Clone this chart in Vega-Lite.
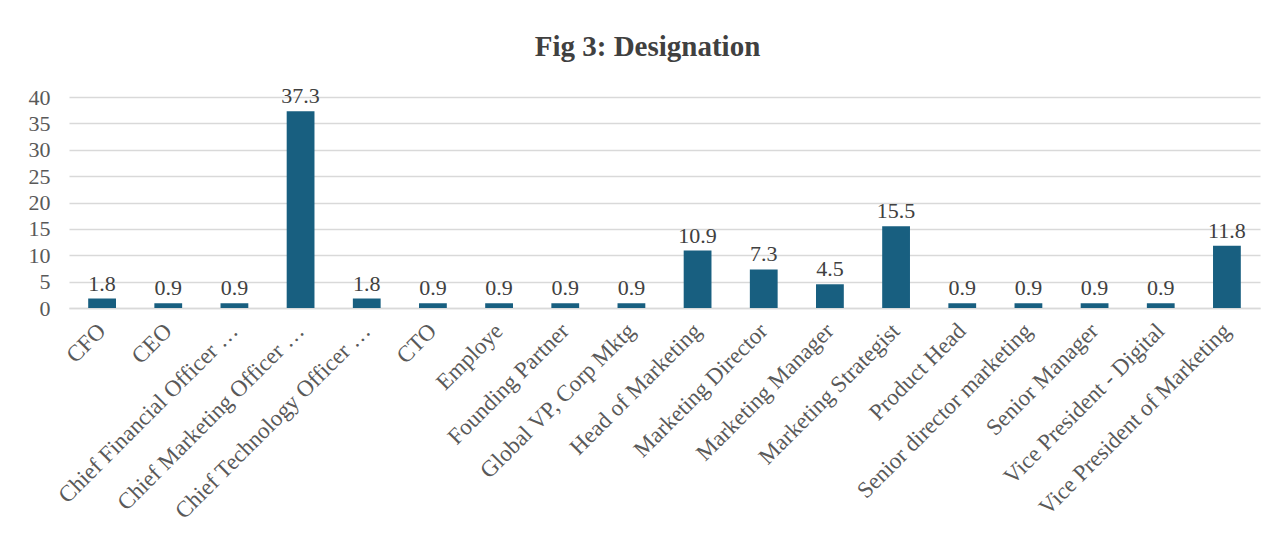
{
  "$schema": "https://vega.github.io/schema/vega-lite/v6.json",
  "width": 1191,
  "height": 211,
  "autosize": {"type": "none"},
  "padding": {"left": 69, "top": 97, "right": 22, "bottom": 238},
  "background": "white",
  "title": {"text": "Fig 3: Designation", "font": "Liberation Serif", "fontSize": 29, "fontWeight": "bold", "color": "#404040", "anchor": "middle", "offset": 23, "dx": -17, "frame": "group"},
  "data": {"values": [
    {"d": "CFO", "v": 1.8},
    {"d": "CEO", "v": 0.9},
    {"d": "Chief Financial Officer …", "v": 0.9},
    {"d": "Chief Marketing Officer …", "v": 37.3},
    {"d": "Chief Technology Officer …", "v": 1.8},
    {"d": "CTO", "v": 0.9},
    {"d": "Employe", "v": 0.9},
    {"d": "Founding Partner", "v": 0.9},
    {"d": "Global VP, Corp Mktg", "v": 0.9},
    {"d": "Head of Marketing", "v": 10.9},
    {"d": "Marketing Director", "v": 7.3},
    {"d": "Marketing Manager", "v": 4.5},
    {"d": "Marketing Strategist", "v": 15.5},
    {"d": "Product Head", "v": 0.9},
    {"d": "Senior director marketing", "v": 0.9},
    {"d": "Senior Manager", "v": 0.9},
    {"d": "Vice President - Digital", "v": 0.9},
    {"d": "Vice President of Marketing", "v": 11.8}
  ]},
  "encoding": {
    "x": {"field": "d", "type": "nominal", "sort": null, "title": null,
      "scale": {"paddingInner": 0.58, "paddingOuter": 0.29},
      "axis": {"labelAngle": -45, "labelAlign": "right", "labelBaseline": "middle", "labelPadding": 19, "ticks": false, "domainColor": "#d9d9d9", "domainWidth": 1.5, "labelFont": "Liberation Serif", "labelFontSize": 23, "labelColor": "#595959", "labelLimit": 400}},
    "y": {"field": "v", "type": "quantitative", "title": null,
      "scale": {"domain": [0, 40]},
      "axis": {"values": [0, 5, 10, 15, 20, 25, 30, 35, 40], "ticks": false, "domain": false, "gridColor": "#d9d9d9", "gridWidth": 1.5, "labelFont": "Liberation Serif", "labelFontSize": 22, "labelColor": "#595959", "labelPadding": 19}}
  },
  "layer": [
    {"mark": {"type": "bar", "color": "#185f80"}},
    {"mark": {"type": "text", "baseline": "bottom", "dy": -3, "font": "Liberation Serif", "fontSize": 22, "color": "#404040"},
     "encoding": {"text": {"field": "v", "type": "quantitative", "format": ".1f"}}}
  ],
  "config": {"view": {"stroke": null}}
}
